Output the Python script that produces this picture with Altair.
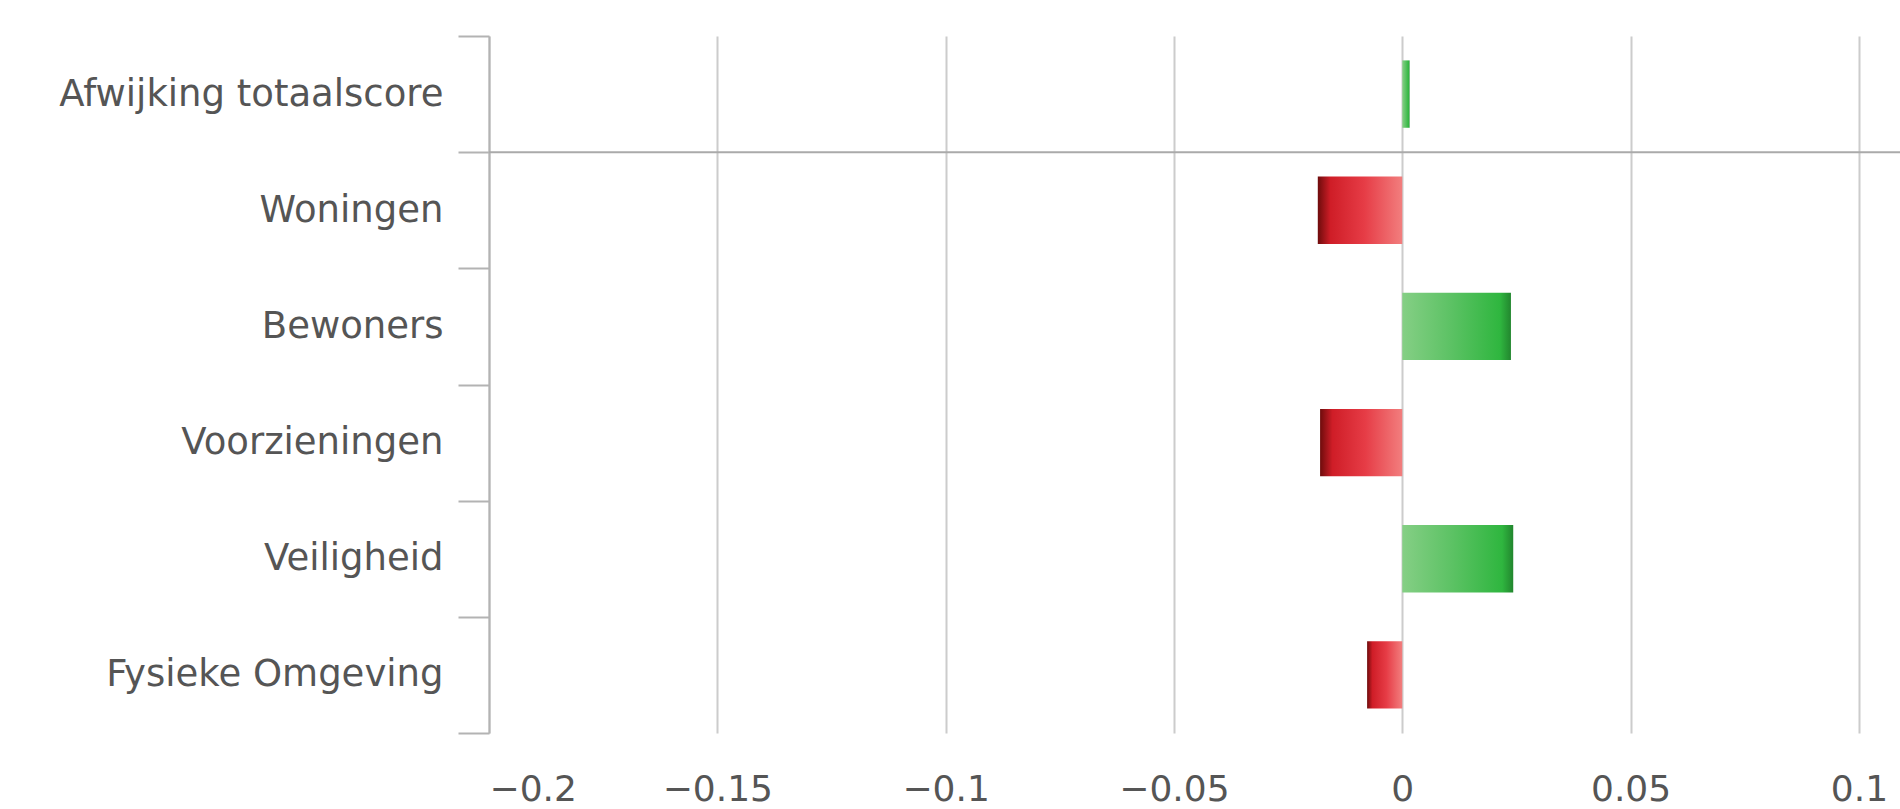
import altair as alt
import pandas as pd

# Afwijking per thema ten opzichte van het gemiddelde
categories = [
    "Afwijking totaalscore",
    "Woningen",
    "Bewoners",
    "Voorzieningen",
    "Veiligheid",
    "Fysieke Omgeving",
]
values = [0.0016, -0.0185, 0.0238, -0.0180, 0.0243, -0.0077]
tick_values = [-0.2, -0.15, -0.1, -0.05, 0, 0.05, 0.1]

df = pd.DataFrame({"categorie": categories, "waarde": values})

FONT = "DejaVu Sans"
LABEL_COLOR = "#555555"
GRID_COLOR = "#cccccc"
AXIS_COLOR = "#b3b3b3"

y_enc = alt.Y(
    "categorie:N",
    sort=categories,
    title=None,
    scale=alt.Scale(paddingInner=0, paddingOuter=0),
    axis=alt.Axis(
        tickBand="extent",
        tickSize=31,
        tickWidth=2,
        tickColor=AXIS_COLOR,
        domainColor=AXIS_COLOR,
        domainWidth=2,
        labelPadding=15,
        labelFont=FONT,
        labelFontSize=37,
        labelColor=LABEL_COLOR,
        labelLimit=600,
        grid=False,
    ),
)

x_enc = alt.X(
    "waarde:Q",
    title=None,
    scale=alt.Scale(domain=[-0.2, 0.109], nice=False, zero=False),
    axis=alt.Axis(
        values=tick_values,
        format=".2~f",
        grid=True,
        gridColor=GRID_COLOR,
        gridWidth=2,
        domain=False,
        ticks=False,
        labelPadding=67,
        labelFont=FONT,
        labelFontSize=36,
        labelColor=LABEL_COLOR,
        labelBaseline="alphabetic",
    ),
)

red_fill = alt.Gradient(
    gradient="linear",
    x1=0, x2=1, y1=0, y2=0,
    stops=[
        alt.GradientStop(color="#6e0c0c", offset=0),
        alt.GradientStop(color="#cf1d27", offset=0.15),
        alt.GradientStop(color="#e63c46", offset=0.55),
        alt.GradientStop(color="#f27e7e", offset=1),
    ],
)

green_fill = alt.Gradient(
    gradient="linear",
    x1=0, x2=1, y1=0, y2=0,
    stops=[
        alt.GradientStop(color="#85cf85", offset=0),
        alt.GradientStop(color="#5cc264", offset=0.45),
        alt.GradientStop(color="#2fb63f", offset=0.9),
        alt.GradientStop(color="#22862e", offset=1),
    ],
)

base = alt.Chart(df)

neg_bars = (
    base.transform_filter(alt.datum.waarde < 0)
    .mark_bar(color=red_fill, height=alt.RelativeBandSize(0.58))
    .encode(x=x_enc, x2=alt.datum(0), y=y_enc)
)

pos_bars = (
    base.transform_filter(alt.datum.waarde >= 0)
    .mark_bar(color=green_fill, height=alt.RelativeBandSize(0.58))
    .encode(x=x_enc, x2=alt.datum(0), y=y_enc)
)

# separator line below the total score row
separator = (
    base.transform_filter(alt.datum.categorie == categories[1])
    .mark_rule(color="#aaaaaa", strokeWidth=2)
    .encode(y=alt.Y("categorie:N", sort=categories, bandPosition=0))
)

chart = (
    alt.layer(neg_bars, pos_bars, separator)
    .properties(
        width=1411,
        height=697,
        autosize=alt.AutoSizeParams(type="none"),
        padding={"left": 489, "top": 36, "right": 0, "bottom": 76},
        background="white",
    )
    .configure_view(stroke=None)
)

chart.save("out.html", embed_options={"renderer": "svg", "actions": False})
